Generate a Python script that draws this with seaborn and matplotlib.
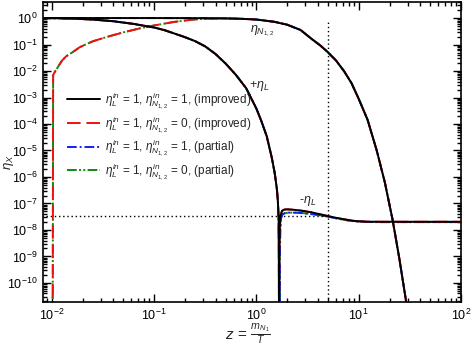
import matplotlib
matplotlib.use("Agg")
import matplotlib.pyplot as plt
import matplotlib.ticker as mticker
import pandas as pd
import seaborn as sns

# eta_N for eta_N^in = 1 (improved and partial overlap)
z_n = [0.0079, 0.1, 0.3, 0.5, 0.7, 1.0, 1.5, 2.0, 2.7, 3.5, 4.2, 4.9, 6.0, 7.2, 8.5, 10.0,
       12.2, 15.0, 18.0, 21.4, 25.0, 28.8, 31.0]
eta_n = [1.0, 0.998, 0.99, 0.97, 0.94, 0.88, 0.72, 0.56, 0.355, 0.158, 0.093, 0.055, 0.025,
         0.0098, 3.5e-3, 8.9e-4, 1.45e-4, 1.0e-5, 6.3e-7, 2.5e-8, 8.0e-10, 2.5e-11, 2.5e-12]

# eta_N for eta_N^in = 0 (starts from zero at z = 0.01)
z_n0 = [0.0102, 0.0103, 0.0107, 0.0126, 0.0138, 0.0158, 0.0188, 0.0251, 0.0347, 0.05, 0.0724,
        0.1, 0.155, 0.25, 0.33, 0.5, 0.7, 1.0, 1.5, 2.0, 2.7, 3.5, 4.2, 4.9, 6.0, 7.2, 8.5,
        10.0, 12.2, 15.0, 18.0, 21.4, 25.0, 28.8, 31.0]
eta_n0 = [1e-12, 7.0e-3, 9.3e-3, 0.025, 0.036, 0.05, 0.08, 0.132, 0.195, 0.288, 0.407,
          0.525, 0.71, 0.89, 0.95, 0.97, 0.94, 0.88, 0.72, 0.56, 0.355, 0.158, 0.093, 0.055,
          0.025, 0.0098, 3.5e-3, 8.9e-4, 1.45e-4, 1.0e-5, 6.3e-7, 2.5e-8, 8.0e-10, 2.5e-11,
          2.5e-12]

# +eta_L branch (all four runs overlap)
z_lpos = [0.0079, 0.01, 0.0158, 0.0251, 0.0398, 0.0631, 0.1, 0.126, 0.158, 0.2, 0.251, 0.316,
          0.398, 0.501, 0.631, 0.794, 1.0, 1.12, 1.26, 1.41, 1.51, 1.585, 1.62, 1.65]
eta_lpos = [1.0, 0.99, 0.955, 0.88, 0.76, 0.60, 0.44, 0.35, 0.26, 0.19, 0.135, 0.085, 0.044,
            0.019, 0.0071, 0.00224, 3.8e-4, 1.26e-4, 3.5e-5, 5.6e-6, 1.4e-6, 3.5e-7, 1.26e-7,
            2.5e-8]

# -eta_L branch, improved
z_lneg_imp = [1.665, 1.672, 1.69, 1.72, 1.78, 1.88, 2.0, 2.3, 2.8, 3.4, 4.2, 5.0, 6.2, 7.8,
              9.5, 12.0, 16.0, 25.0, 50.0, 100.0]
eta_lneg_imp = [1e-12, 1e-9, 1.2e-8, 3.5e-8, 5.3e-8, 5.9e-8, 6.0e-8, 5.8e-8, 5.3e-8, 4.7e-8,
                3.9e-8, 3.35e-8, 2.8e-8, 2.4e-8, 2.15e-8, 2.06e-8, 2.04e-8, 2.04e-8, 2.04e-8,
                2.04e-8]

# -eta_L branch, partial
z_lneg_par = [1.69, 1.695, 1.71, 1.74, 1.8, 1.9, 2.05, 2.4, 2.9, 3.4, 4.2, 5.0, 6.2, 7.8, 9.5,
              12.0, 16.0, 25.0, 50.0, 100.0]
eta_lneg_par = [1e-12, 1e-9, 1.0e-8, 2.8e-8, 3.9e-8, 4.3e-8, 4.5e-8, 4.5e-8, 4.3e-8, 4.0e-8,
                3.6e-8, 3.2e-8, 2.7e-8, 2.3e-8, 2.1e-8, 2.0e-8, 1.98e-8, 1.98e-8, 1.98e-8,
                1.98e-8]

# dotted guide lines: z = 5 and eta_L(z = 5)
z_mark = 5.0
eta_mark = 3.3e-8

labels = [
    r"$\eta_L^{in}$ = 1, $\eta_{N_{1,2}}^{in}$ = 1, (improved)",
    r"$\eta_L^{in}$ = 1, $\eta_{N_{1,2}}^{in}$ = 0, (improved)",
    r"$\eta_L^{in}$ = 1, $\eta_{N_{1,2}}^{in}$ = 1, (partial)",
    r"$\eta_L^{in}$ = 1, $\eta_{N_{1,2}}^{in}$ = 0, (partial)",
]
colors = ["black", "#ee1111", "#1122ee", "#118811"]
styles = ["-", (0, (7, 3)), (0, (5, 1.5, 1, 1.5)), (0, (5, 1.2, 1, 1.2, 1, 1.2))]


def main() -> None:
    sns.set_theme(style="ticks")
    plt.rcParams["font.family"] = ["Liberation Sans", "DejaVu Sans"]
    plt.rcParams["mathtext.fontset"] = "custom"
    plt.rcParams["mathtext.rm"] = "Liberation Sans"
    plt.rcParams["mathtext.it"] = "Liberation Sans:italic"
    plt.rcParams["mathtext.bf"] = "Liberation Sans:bold"

    fig = plt.figure(figsize=(4.71, 3.5), dpi=100)
    ax = fig.add_axes([0.0913, 0.137, 0.8875, 0.857])

    runs = [
        (z_n, eta_n, z_lpos + z_lneg_imp, eta_lpos + eta_lneg_imp),
        (z_n0, eta_n0, z_lpos + z_lneg_imp, eta_lpos + eta_lneg_imp),
        (z_n, eta_n, z_lpos + z_lneg_par, eta_lpos + eta_lneg_par),
        (z_n0, eta_n0, z_lpos + z_lneg_par, eta_lpos + eta_lneg_par),
    ]
    zorders = [5, 4, 3, 2]
    handles = []
    for i, (zn, en, zl, el) in enumerate(runs):
        for j, (zz, ee) in enumerate([(zn, en), (zl, el)]):
            df = pd.DataFrame({"z": zz, "eta": ee})
            sns.lineplot(data=df, x="z", y="eta", sort=False, estimator=None, ax=ax,
                         color=colors[i], linewidth=1.4, zorder=zorders[i])
            line = ax.lines[-1]
            line.set_linestyle(styles[i])
            if j == 0:
                handles.append(line)

    ax.plot([z_mark, z_mark], [1e-12, 0.85], color="black", linestyle=(0, (1, 2)), linewidth=1.0)
    ax.plot([0.005, z_mark], [eta_mark, eta_mark], color="black", linestyle=(0, (1, 2)),
            linewidth=1.0)

    ax.set_xscale("log")
    ax.set_yscale("log")
    ax.set_xlim(0.0082, 100)
    ax.set_ylim(1.9e-11, 4.0)

    ax.xaxis.set_major_locator(mticker.LogLocator(base=10, numticks=20))
    ax.yaxis.set_major_locator(mticker.FixedLocator([10.0 ** -k for k in range(0, 11)]))
    ax.xaxis.set_minor_locator(mticker.LogLocator(base=10, subs=range(2, 10), numticks=20))
    ax.yaxis.set_minor_locator(mticker.LogLocator(base=10, subs=range(2, 10), numticks=20))
    ax.yaxis.set_minor_formatter(mticker.NullFormatter())
    ax.xaxis.set_minor_formatter(mticker.NullFormatter())

    ax.tick_params(which="both", direction="in", top=True, right=True, width=1.0,
                   labelsize=9, colors="black")
    ax.tick_params(which="major", length=5.5, pad=4)
    ax.tick_params(which="minor", length=3)
    for sp in ax.spines.values():
        sp.set_linewidth(1.2)
        sp.set_color("black")

    ax.set_xlabel(r"$z\,=\,\frac{m_{N_1}}{T}$", fontsize=11)
    ax.xaxis.set_label_coords((248 - 43) / 418, -(322 - 302) / 300)
    ax.set_ylabel(r"$\eta_X$", fontsize=9.5)
    ax.yaxis.set_label_coords((16 - 43) / 418, 0.465)

    ax.text(1.15, 0.3, r"$\eta_{N_{1,2}}$", fontsize=9, ha="center", va="center")
    ax.text(0.84, 2.7e-3, r"+$\eta_L$", fontsize=9, ha="left", va="center")
    ax.text(3.16, 1.25e-7, r"-$\eta_L$", fontsize=9, ha="center", va="center")

    ax.legend(handles, labels, loc="upper left", bbox_to_anchor=(0.057, 0.705), frameon=False,
              fontsize=8.5, handlelength=2.8, handletextpad=0.45, labelspacing=0.25,
              borderpad=0, borderaxespad=0)

    fig.savefig("out.png", dpi=100)
    plt.close(fig)


if __name__ == "__main__":
    main()
